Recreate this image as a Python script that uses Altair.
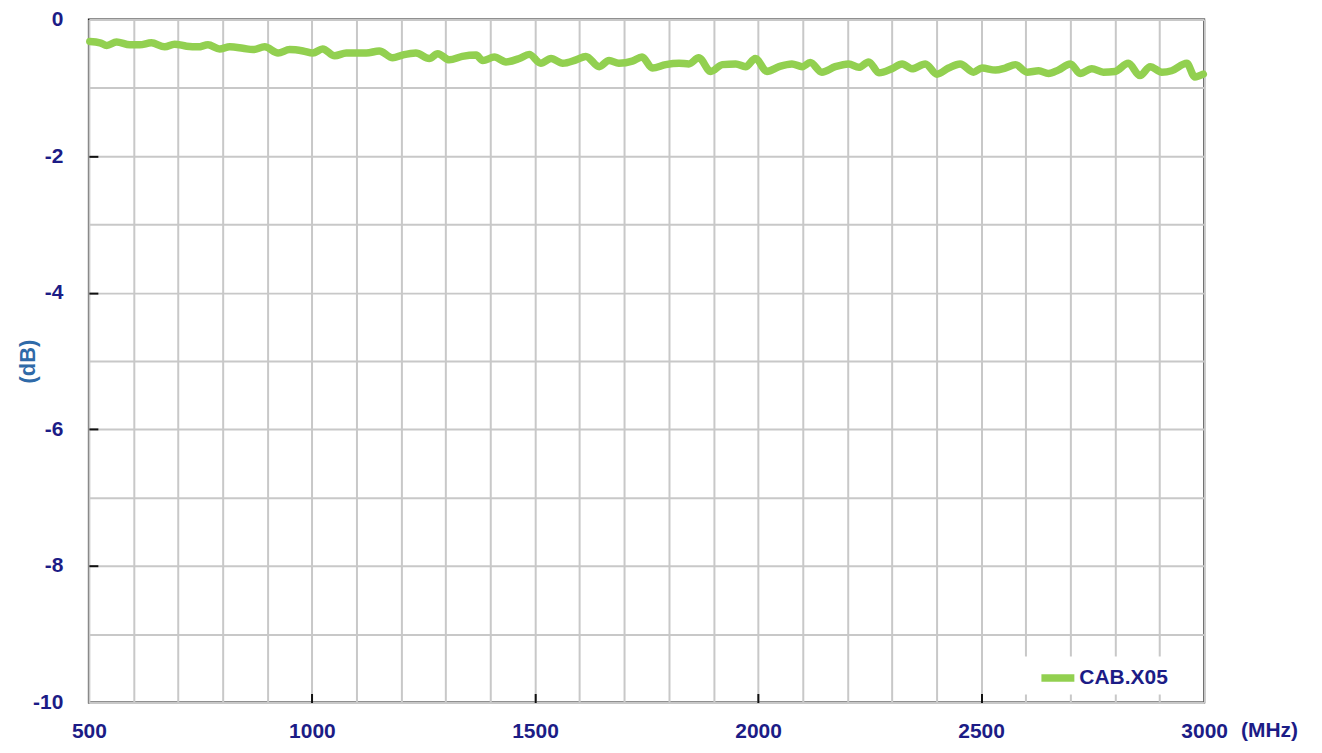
import altair as alt
import pandas as pd

freq_mhz = [502, 525, 540, 562, 592, 614, 640, 670, 692, 719, 745, 767, 793, 816, 845, 868,
            894, 924, 950, 980, 1002, 1024, 1051, 1077, 1099, 1122, 1151, 1181, 1203, 1233,
            1263, 1282, 1308, 1337, 1368, 1383, 1409, 1435, 1465, 1487, 1513, 1536, 1562,
            1592, 1614, 1644, 1666, 1688, 1718, 1740, 1763, 1793, 1823, 1845, 1867, 1894,
            1920, 1950, 1972, 1994, 2020, 2047, 2076, 2099, 2117, 2143, 2173, 2203, 2226,
            2248, 2271, 2300, 2323, 2345, 2375, 2401, 2427, 2453, 2483, 2502, 2532, 2554,
            2577, 2603, 2629, 2651, 2673, 2700, 2722, 2748, 2774, 2800, 2830, 2856, 2879,
            2905, 2927, 2961, 2979, 2998]
loss_db = [-0.32, -0.34, -0.38, -0.33, -0.37, -0.37, -0.34, -0.40, -0.36, -0.39, -0.40, -0.37,
           -0.43, -0.40, -0.42, -0.44, -0.40, -0.49, -0.44, -0.46, -0.49, -0.43, -0.53, -0.49,
           -0.49, -0.49, -0.46, -0.56, -0.52, -0.49, -0.57, -0.50, -0.59, -0.54, -0.52, -0.60,
           -0.55, -0.62, -0.57, -0.51, -0.64, -0.57, -0.64, -0.59, -0.54, -0.69, -0.60, -0.64,
           -0.61, -0.55, -0.71, -0.66, -0.64, -0.65, -0.56, -0.76, -0.66, -0.65, -0.69, -0.57,
           -0.76, -0.69, -0.65, -0.69, -0.63, -0.77, -0.69, -0.65, -0.70, -0.62, -0.78, -0.72,
           -0.65, -0.72, -0.65, -0.80, -0.71, -0.65, -0.77, -0.71, -0.74, -0.71, -0.66, -0.77,
           -0.75, -0.79, -0.74, -0.65, -0.79, -0.72, -0.77, -0.76, -0.64, -0.82, -0.69, -0.77,
           -0.75, -0.64, -0.84, -0.80]
series_name = "CAB.X05"

x_grid_values = list(range(500, 3001, 100))
y_grid_values = list(range(-10, 1, 1))

df = pd.DataFrame({"freq": freq_mhz, "loss": loss_db, "series": [series_name] * len(freq_mhz)})

NAVY = "#1c1c86"
LABEL_FONT = "Liberation Sans, Arial, sans-serif"
FS = 21

chart = alt.Chart(df).mark_line(
    strokeWidth=7.5, strokeCap="round", strokeJoin="round", interpolate="monotone"
).encode(
    x=alt.X(
        "freq:Q",
        scale=alt.Scale(domain=[500, 3000], nice=False, zero=False),
        axis=alt.Axis(
            values=x_grid_values,
            grid=True,
            gridColor="#c8c8c8",
            gridWidth=2,
            labelExpr="datum.value % 500 === 0 ? toString(datum.value) : ''",
            labelFont=LABEL_FONT,
            labelFontSize=FS,
            labelFontWeight="bold",
            labelColor=NAVY,
            labelPadding=27,
            ticks=True,
            tickSize={"expr": "-9"},
            tickWidth=2,
            tickColor={"condition": {"test": "datum.value % 500 === 0 && datum.value > 500 && datum.value < 3000", "value": "#111111"}, "value": "transparent"},
            domain=False,
            labelFlush=False,
            title="(MHz)",
            titleFont=LABEL_FONT,
            titleFontSize=FS,
            titleFontWeight="bold",
            titleColor=NAVY,
            titleAnchor="start",
            titleAlign="center",
            titleBaseline="middle",
            titleX=1182,
            titleY=28,
        ),
    ),
    y=alt.Y(
        "loss:Q",
        scale=alt.Scale(domain=[-10, 0], nice=False, zero=False),
        axis=alt.Axis(
            values=y_grid_values,
            grid=True,
            gridColor="#c8c8c8",
            gridWidth=2,
            labelExpr="datum.value % 2 === 0 ? toString(datum.value) : ''",
            labelFont=LABEL_FONT,
            labelFontSize=FS,
            labelFontWeight="bold",
            labelColor=NAVY,
            labelPadding=35,
            tickSize={"expr": "-9"},
            tickWidth=2,
            tickColor={"condition": {"test": "datum.value % 2 === 0 && datum.value > -10 && datum.value < 0", "value": "#111111"}, "value": "transparent"},
            domain=False,
            title="(dB)",
            titleFont=LABEL_FONT,
            titleFontSize=22,
            titleFontWeight="bold",
            titleColor="#2f6aa8",
            titleAnchor="start",
            titleAlign="center",
            titleBaseline="middle",
            titleAngle=270,
            titleX=-61,
            titleY=342,
        ),
    ),
    color=alt.Color(
        "series:N",
        scale=alt.Scale(domain=[series_name], range=["#92d050"]),
        legend=alt.Legend(
            title=None,
            orient="none",
            legendX=911,
            legendY=638,
            symbolType="stroke",
            symbolSize=1089,
            symbolStrokeWidth=7.5,
            symbolOffset=38,
            labelFont=LABEL_FONT,
            labelFontSize=FS,
            labelFontWeight="bold",
            labelColor=NAVY,
            labelOffset=1,
            fillColor="white",
            padding=1,
        ),
    ),
).properties(
    width=1117,
    height=684,
    padding={"left": 81, "top": 11, "right": 110, "bottom": 40},
    autosize=alt.AutoSizeParams(type="none"),
).configure_view(
    stroke="#222222", strokeWidth=2
)

chart.save("out.html", embed_options={"renderer": "svg", "actions": False})
